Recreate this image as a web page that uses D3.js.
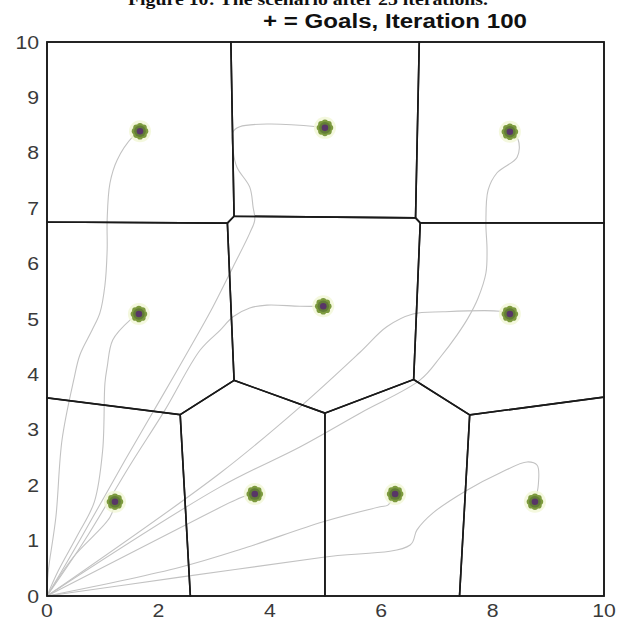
<!DOCTYPE html>
<html>
<head>
<meta charset="utf-8">
<script src="https://cdn.jsdelivr.net/npm/d3@7"></script>
<style>
  html, body { margin: 0; padding: 0; background: #fff; }
  svg { display: block; }
</style>
</head>
<body>
<div id="chart"></div>
<script>
const xTicks = [0, 2, 4, 6, 8, 10]
const yTicks = [0, 1, 2, 3, 4, 5, 6, 7, 8, 9, 10]

// goal positions (agents sit on them at iteration 100)
const goalX = [1.67, 4.99, 8.31, 1.65, 4.96, 8.31, 1.22, 3.73, 6.25, 8.76]
const goalY = [8.39, 8.45, 8.38, 5.09, 5.23, 5.09, 1.70, 1.84, 1.84, 1.70]

// trajectories from the start corner
const path1 = [[0, 0], [0.02, 0.42], [0.16, 1.43], [0.27, 2.82], [0.48, 3.9], [0.59, 4.35], [0.81, 4.8], [0.95, 5.11], [1.04, 5.61], [1.08, 6.25], [1.08, 6.79], [1.13, 7.45], [1.26, 7.87], [1.54, 8.29], [1.67, 8.39]]
const path2 = [[0, 0], [0.59, 1.01], [1.4, 2.45], [2.03, 3.54], [2.75, 4.8], [2.98, 5.22], [3.34, 5.94], [3.64, 6.55], [3.73, 6.79], [3.7, 7.02], [3.64, 7.38], [3.41, 7.74], [3.34, 8.05], [3.34, 8.38], [3.46, 8.47], [3.95, 8.52], [4.85, 8.47], [4.99, 8.45]]
const path3 = [[0, 0], [3.11, 1.97], [4.54, 2.69], [5.62, 3.3], [6.7, 3.9], [7.06, 4.31], [7.36, 4.71], [7.56, 5.02], [7.74, 5.38], [7.88, 5.83], [7.9, 6.25], [7.88, 6.73], [7.92, 7.33], [8.08, 7.64], [8.44, 7.92], [8.46, 8.23], [8.31, 8.38]]
const path4 = [[0, 0], [0.2, 0.45], [0.55, 1.1], [0.85, 1.7], [1.0, 2.64], [1.04, 3.84], [1.08, 4.13], [1.18, 4.62], [1.49, 4.98], [1.65, 5.09]]
const path5 = [[0, 0], [0.68, 1.01], [1.49, 2.36], [2.12, 3.36], [2.75, 4.44], [3.11, 4.8], [3.34, 5.04], [3.64, 5.2], [3.95, 5.25], [4.54, 5.23], [4.96, 5.23]]
const path6 = [[0, 0], [3.11, 2.22], [4.54, 3.41], [5.62, 4.4], [6.1, 4.86], [6.57, 5.09], [7.11, 5.13], [8.13, 5.14], [8.31, 5.09]]
const path7 = [[0, 0], [0.47, 0.7], [1.13, 1.42], [1.22, 1.7]]
const path8 = [[0, 0], [2.39, 1.23], [3.52, 1.79], [3.73, 1.84]]
const path9 = [[0, 0], [2.39, 0.52], [3.59, 0.88], [4.96, 1.34], [5.98, 1.61], [6.12, 1.64], [6.25, 1.84]]
const path10 = [[0, 0], [2.39, 0.34], [4.96, 0.7], [6.52, 0.92], [6.64, 1.19], [6.93, 1.5], [7.54, 1.91], [8.13, 2.22], [8.62, 2.42], [8.8, 2.36], [8.82, 2.0], [8.76, 1.7]]

const trajectories = [path1, path2, path3, path4, path5, path6, path7, path8, path9, path10]

const width = 629, height = 629

const x = d3.scaleLinear().domain([0, 10]).range([47, 604])
const y = d3.scaleLinear().domain([0, 10]).range([596, 42])

const svg = d3.select("#chart").append("svg")
  .attr("width", width)
  .attr("height", height)

// caption of the page above, cut off by the crop
svg.append("text")
  .attr("x", 308)
  .attr("y", 5)
  .attr("text-anchor", "middle")
  .attr("textLength", 360)
  .attr("lengthAdjust", "spacingAndGlyphs")
  .style("font-family", "'Liberation Serif', 'DejaVu Serif', serif")
  .style("font-weight", "bold")
  .style("font-size", "16px")
  .attr("fill", "#111")
  .text("Figure 10: The scenario after 25 iterations.")

svg.append("text")
  .attr("x", 395)
  .attr("y", 28)
  .attr("text-anchor", "middle")
  .attr("textLength", 264)
  .attr("lengthAdjust", "spacingAndGlyphs")
  .style("font-family", "'Liberation Sans', Arial, sans-serif")
  .style("font-weight", "bold")
  .style("font-size", "20px")
  .attr("fill", "#111")
  .text("+ = Goals, Iteration 100")

/* ------- trajectories ------- */
const line = d3.line()
  .x(d => x(d[0]))
  .y(d => y(d[1]))
  .curve(d3.curveCatmullRom.alpha(0.5))

svg.append("g").attr("class", "paths")
  .selectAll("path")
  .data(trajectories)
  .join("path")
    .attr("d", line)
    .attr("fill", "none")
    .attr("stroke", "#c2c2c2")
    .attr("stroke-width", 1.1)

/* ------- voronoi partition of the goals ------- */
const goals = goalX.map((gx, i) => [gx, goalY[i]])
const voronoi = d3.Delaunay.from(goals).voronoi([0, 0, 10, 10])

svg.append("g").attr("class", "cells")
  .selectAll("path")
  .data(goals.map((d, i) => voronoi.cellPolygon(i)))
  .join("path")
    .attr("d", poly => "M" + poly.map(p => [x(p[0]), y(p[1])]).join("L") + "Z")
    .attr("fill", "none")
    .attr("stroke", "#1a1a1a")
    .attr("stroke-width", 1.6)

// axes box
svg.append("rect")
  .attr("x", x(0))
  .attr("y", y(10))
  .attr("width", x(10) - x(0))
  .attr("height", y(0) - y(10))
  .attr("fill", "none")
  .attr("stroke", "#1a1a1a")
  .attr("stroke-width", 1.6)

/* ------- goal markers ------- */
const marker = svg.append("g").attr("class", "goals")
  .selectAll("g")
  .data(goals)
  .join("g")
    .attr("transform", d => "translate(" + x(d[0]) + "," + y(d[1]) + ")")

marker.append("circle").attr("r", 11).attr("fill", "#f1f6d6").attr("opacity", 0.8)
marker.selectAll(".petal")
  .data(d3.range(8))
  .join("circle")
    .attr("class", "petal")
    .attr("cx", k => 5.2 * Math.cos(k * Math.PI / 4))
    .attr("cy", k => 5.2 * Math.sin(k * Math.PI / 4))
    .attr("r", 3.1)
    .attr("fill", "#7c9a3e")
marker.append("circle").attr("r", 5.8).attr("fill", "#627c36")
marker.append("circle").attr("r", 3.3).attr("fill", "#583667")

/* ------- tick labels ------- */
const labelFont = "'Liberation Sans', Arial, sans-serif"

svg.append("g").attr("class", "ylabels")
  .selectAll("g")
  .data(yTicks)
  .join("g")
    .attr("transform", d => "translate(39," + (y(d) + 6.5) + ") scale(1.18,1)")
  .append("text")
    .attr("text-anchor", "end")
    .style("font-family", labelFont)
    .style("font-size", "18px")
    .attr("fill", "#3a3a3a")
    .text(d => d)

svg.append("g").attr("class", "xlabels")
  .selectAll("g")
  .data(xTicks)
  .join("g")
    .attr("transform", d => "translate(" + x(d) + ",617) scale(1.18,1)")
  .append("text")
    .attr("text-anchor", "middle")
    .style("font-family", labelFont)
    .style("font-size", "18px")
    .attr("fill", "#3a3a3a")
    .text(d => d)
</script>
</body>
</html>
